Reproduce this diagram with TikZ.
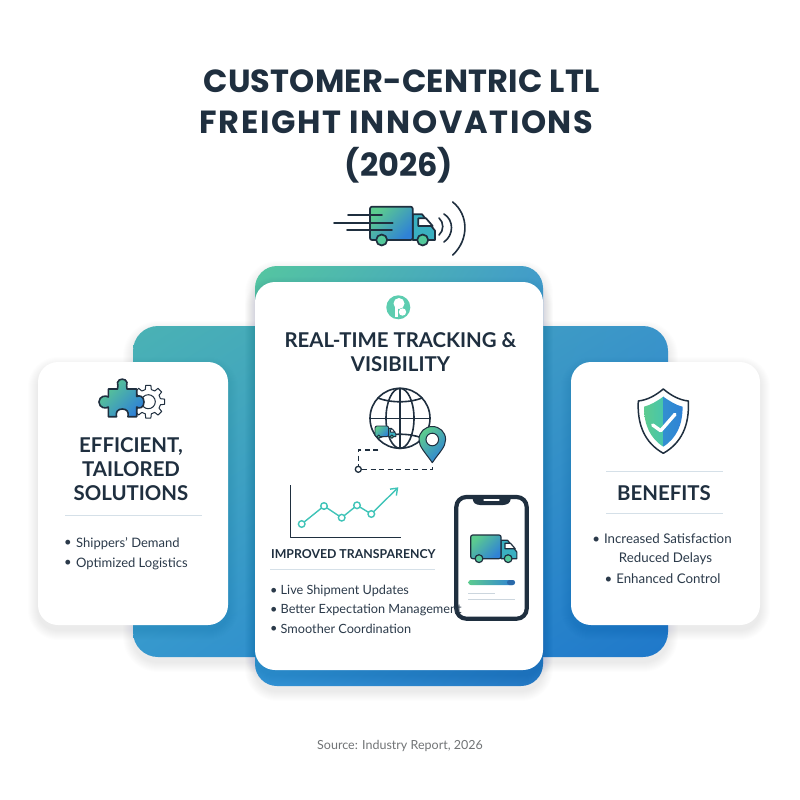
\documentclass[tikz,border=0pt]{standalone}
\usepackage{fontspec}
\setmainfont{Lato}
\newfontfamily\titlefont{Poppins}
\newfontfamily\titlefontB[LetterSpace=5.2]{Poppins}
\usetikzlibrary{arrows.meta,shadings}
\definecolor{ink}{HTML}{1F2F3F}
\definecolor{gA}{HTML}{5CCB8F}
\definecolor{gB}{HTML}{2F82D6}
\definecolor{teal}{HTML}{3FC4B8}
\definecolor{rulec}{HTML}{D5E0E8}
\definecolor{body}{HTML}{2B3A4A}
\definecolor{shadowc}{HTML}{1A3A6A}
\definecolor{pTL}{HTML}{4AB2B4}
\definecolor{pTR}{HTML}{3A94CA}
\definecolor{pBL}{HTML}{3698CE}
\definecolor{pBR}{HTML}{1F78CA}
\definecolor{cTL}{HTML}{55C6A0}
\definecolor{cTR}{HTML}{429CCA}
\definecolor{cBL}{HTML}{3292D4}
\definecolor{cBR}{HTML}{2478C4}
\tikzset{
  gg/.style={top color=gA,bottom color=gB,shading angle=45},
  card/.style={fill=white},
  lbl/.style={inner sep=0pt,text=ink},
  head/.style={lbl,font=\bfseries\fontsize{20.4}{24}\selectfont,align=center},
  titleln/.style={lbl,font=\titlefont\bfseries\fontsize{32}{39}\selectfont},
  item/.style={lbl,text=body,font=\fontsize{13}{15}\selectfont,anchor=west},
  itemc/.style={lbl,text=body,font=\fontsize{13.3}{15}\selectfont},
  divider/.style={draw=rulec,line width=1pt},
  ic/.style={draw=ink,line width=1.6pt,line join=round,line cap=round}
}
\newcommand\softshadow[5]{%
  \foreach \i in {1,...,10}{%
    \fill[shadowc,opacity=0.007,rounded corners={#5+\i}] ({#1-\i},{#2-\i+5}) rectangle ({#3+\i},{#4+\i+5});}}
\newcommand\trk[4]{%
  \begin{scope}[shift={(#1,#2)},scale=#3,line width=#4,line join=round]
    \draw[draw=ink,fill=teal!70!gB] (42.7,7.5) -- (52,7.5) -- (65,24) -- (65,33.3) -- (42.7,33.3) -- cycle;
    \draw[draw=ink,fill=white] (48.3,11.6) -- (56,11.6) -- (62.7,19.3) -- (48.3,19.3) -- cycle;
    \draw[draw=ink,gg,rounded corners=2pt] (0,0) rectangle (42.7,33.3);
    \draw[draw=ink,fill=gA!70!teal] (11.7,33.3) circle (5.5);
    \draw[draw=ink,fill=gA!70!teal] (52.7,33.3) circle (5.5);
  \end{scope}}
\begin{document}
\begin{tikzpicture}[x=1pt,y=-1pt]
\useasboundingbox (0,0) rectangle (800,800);
\fill[white] (0,0) rectangle (800,800);

% Title
\node[titleln] (title1) at (401.5,81.5) {\addfontfeature{LetterSpace=0.6}CUSTOMER-CENTRIC LTL};
\node[lbl,font=\titlefontB\bfseries\fontsize{32}{39}\selectfont] (title2) at (396.5,122) {FREIGHT INNOVATIONS};
\node[titleln] (title3) at (399,165) {(2026)};

% Truck icon with speed lines and signal
\trk{370}{206.7}{1}{1.7pt}
\draw[ic] (348,215) -- (382,215);
\draw[ic] (334,222.7) -- (370,222.7);
\draw[ic] (361.7,222.7) -- (392.7,222.7);
\draw[ic] (347,230) -- (392,230);
\draw[ic] (439,218) .. controls (444,222) and (444,231) .. (439,235);
\draw[ic] (444,214) .. controls (454,220) and (454,235) .. (444,242);
\draw[ic] (452.7,202) .. controls (469,215) and (469,240) .. (452.7,255);

% Back panels
\softshadow{133}{326}{668}{657}{25}
\shade[upper left=pTL,upper right=pTR,lower left=pBL,lower right=pBR,rounded corners=25pt] (133,326) rectangle (668,657);
\softshadow{255}{266}{543}{686}{22}
\shade[upper left=cTL,upper right=cTR,lower left=cBL,lower right=cBR,rounded corners=22pt] (255,266) rectangle (543,686);

% Cards
\softshadow{255}{282}{543}{670}{20}
\fill[card,rounded corners=20pt] (255,282) rectangle (543,670);
\softshadow{38}{362}{228}{625}{20}
\fill[card,rounded corners=20pt] (38,362) rectangle (228,625);
\softshadow{571}{362}{760}{625}{20}
\fill[card,rounded corners=20pt] (571,362) rectangle (760,625);

% Centre badge
\fill[teal!60!gA!90!white] (398.3,307.3) circle (12);
\fill[white] (399,303.5) circle (5.5);
\fill[white] (394.8,305) rectangle (398,317);
\fill[white] (402.5,312) circle (3.7);

% Centre heading
\node[head] (rt) at (400.5,352) {REAL-TIME TRACKING \&\\VISIBILITY};

% Globe
\draw[ic] (400,418.3) circle (30);
\draw[ic] (400,388.3) -- (400,448.3);
\draw[ic] (400,418.3) ellipse (14 and 30);
\draw[ic] (370,418.3) -- (430,418.3);
\draw[ic] (378,398) .. controls (390,403) and (410,403) .. (422,398);
\draw[ic] (378,438) .. controls (390,433) and (410,433) .. (422,438);
\trk{375}{426}{0.32}{0.9pt}
\draw[ic,gg,line width=1pt] (432.3,462.7) .. controls (425,452) and (419,447) .. (419,439.5) .. controls (419,432) and (425,426.5) .. (432.3,426.5) .. controls (439.6,426.5) and (445.6,432) .. (445.6,439.5) .. controls (445.6,447) and (439.6,452) .. (432.3,462.7) -- cycle;
\draw[draw=ink,fill=white,line width=1pt] (432.3,439.5) circle (6.3);
\coordinate (dashA) at (378.3,450);
\coordinate (dashB) at (358.3,466.3);
\draw[draw=ink,line width=1.3pt,dash pattern=on 5pt off 3.5pt] (dashA) -- (358.3,450) -- (dashB);
\draw[draw=ink,line width=1.3pt,fill=white] (358.3,469.3) circle (3);
\draw[draw=ink,line width=1.3pt,dash pattern=on 5pt off 3.5pt] (362,469.3) -- (432.3,469.3) -- (432.3,464);

% Chart
\draw[ic,line width=1.3pt,line cap=butt] (290.7,485) -- (290.7,537.3) -- (400.7,537.3);
\draw[draw=teal,line width=1.4pt,-{Straight Barb[length=6pt,width=9pt]}] (301.7,524) -- (324,506) -- (341.7,517.7) -- (357,505.3) -- (371.3,514) -- (398.3,487.3);
\foreach \px/\py in {301.7/524,324/506,341.7/517.7,357/505.3,371.3/514}
  \draw[draw=teal,fill=white,line width=1.4pt] (\px,\py) circle (3.3);

% Phone
\draw[draw=ink,fill=white,line width=4.2pt,rounded corners=10pt] (456.3,497) rectangle (526.7,618.7);
\fill[ink,rounded corners=3pt] (472.7,496) -- (510.7,496) -- (510.7,502) -- (506,505) -- (477,505) -- (472.7,502) -- cycle;
\draw[white,line width=1.2pt,line cap=round] (484,500) -- (499,500);
\trk{470.7}{535}{0.71}{1.2pt}
\shade[left color=gA,right color=gB,rounded corners=2.5pt] (468.3,580) rectangle (515,585);
\fill[gB!70!ink,rounded corners=2.5pt] (507,580) rectangle (515,585);
\draw[draw=rulec!90!gray,line width=1.3pt] (468,593.7) -- (495,593.7);
\draw[draw=rulec!90!gray,line width=1.3pt] (468,599.7) -- (515,599.7);

% Centre texts
\node[lbl,font=\bfseries\fontsize{12.3}{15}\selectfont,anchor=west] (imp) at (271,554) {IMPROVED TRANSPARENCY};
\draw[divider] (270,569) -- (435,569);
\foreach \yy/\tt/\nm in {591/Live Shipment Updates/a,610/Better Expectation Management/b,629/Smoother Coordination/c}{
  \node[item,font=\fontsize{12.7}{15}\selectfont] (bul\nm) at (270,\yy) {•};
  \node[item,font=\fontsize{12.7}{15}\selectfont] (cit\nm) at (280.5,\yy) {\tt};
}

% Left card
\begin{scope}[shift={(148.3,401.7)}]
\draw[draw=ink,fill=white,line width=1pt,line join=round] (-14:12.5)
  \foreach \aa in {0,45,...,315}{ -- (\aa-14:12.5) -- (\aa-9:16.5) -- (\aa+9:16.5) -- (\aa+14:12.5) } -- cycle;
\draw[draw=ink,fill=white,line width=1pt] (0,0) circle (7);
\end{scope}
\draw[ic,gg] (108.3,389) -- (117.5,389) .. controls (119,386.5) and (117,385) .. (117.5,382.5) .. controls (118.5,378) and (126,378) .. (127,382.5) .. controls (127.5,385) and (125.5,386.5) .. (127,389) -- (136.7,389) -- (136.7,396.5) .. controls (139,395) and (144,396) .. (144,402) .. controls (144,408) and (139,409) .. (136.7,407) -- (136.7,416.7) -- (128,416.7) .. controls (129,412) and (127,409) .. (122.3,409) .. controls (117.6,409) and (115.5,412) .. (116.5,416.7) -- (108.3,416.7) -- (108.3,407) .. controls (106,409) and (99,408) .. (99,402) .. controls (99,396) and (106,395) .. (108.3,397) -- cycle;
\node[head] (eff) at (131,469) {EFFICIENT,\\TAILORED\\SOLUTIONS};
\draw[divider] (65,515) -- (202,515);
\node[item] (l1b) at (64,543.5) {•};
\node[item] (l1) at (76,543.5) {Shippers’ Demand};
\node[item] (l2b) at (64,563.5) {•};
\node[item] (l2) at (76,563.5) {Optimized Logistics};

% Right card
\draw[draw=ink,fill=white,line width=1.5pt,line join=round] (663.3,389) .. controls (655,396) and (647,400) .. (638.3,401) .. controls (637,425) and (645,443) .. (663.3,453.3) .. controls (681.6,443) and (689.6,425) .. (688.3,401) .. controls (679.6,400) and (671.6,396) .. (663.3,389) -- cycle;
\shade[left color=gA,right color=teal!70!gA] (663.3,396.7) .. controls (657,401) and (651,405) .. (644,406.7) .. controls (644,425) and (650,438) .. (663.3,446.7) -- cycle;
\shade[left color=gB!80!teal,right color=gB] (663.3,396.7) .. controls (669.6,401) and (675.6,405) .. (682.6,406.7) .. controls (682.6,425) and (676.6,438) .. (663.3,446.7) -- cycle;
\draw[white,line width=3.4pt,line cap=round,line join=round] (652.7,425) -- (660.7,430.7) -- (675,414.3);
\draw[divider] (606,471.7) -- (723.3,471.7);
\node[head] (ben) at (664,493) {BENEFITS};
\draw[divider] (606,513) -- (723.3,513);
\node[itemc] (r1) at (662,539) {•\hspace{4pt}Increased Satisfaction};
\node[itemc] (r2) at (665.5,559) {Reduced Delays};
\node[itemc] (r3) at (662.5,579) {•\hspace{4pt}Enhanced Control};

% Source
\node[lbl,text=gray!85!ink,font=\fontsize{12.5}{14}\selectfont] (src) at (400,746) {Source: Industry Report, 2026};
\end{tikzpicture}
\end{document}
